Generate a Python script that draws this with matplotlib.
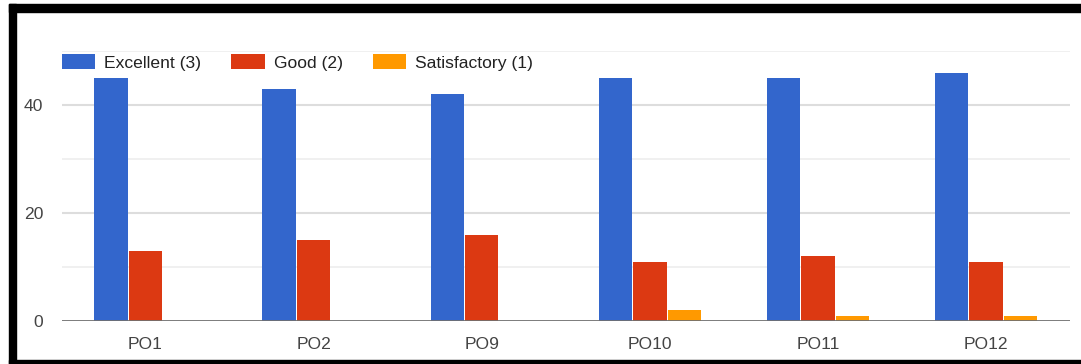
import matplotlib
matplotlib.use("Agg")
import matplotlib.pyplot as plt
from matplotlib.patches import Rectangle, Patch
import numpy as np

plt.rcParams['font.family'] = ['Liberation Sans', 'DejaVu Sans']

# outcome categories and response counts
outcomes = ['PO1', 'PO2', 'PO9', 'PO10', 'PO11', 'PO12']
excellent = [45, 43, 42, 45, 45, 46]
good = [13, 15, 16, 11, 12, 11]
satisfactory = [0, 0, 0, 2, 1, 1]

series_names = ['Excellent (3)', 'Good (2)', 'Satisfactory (1)']
series_colors = ['#3366cc', '#dc3912', '#ff9900']

W, H = 1081, 364
fig = plt.figure(figsize=(W / 100, H / 100), dpi=100)
fig.patch.set_facecolor('white')

ax = fig.add_axes([61.5 / W, (H - 321) / H, (1070 - 61.5) / W, 270 / H])

x = np.arange(len(outcomes))
bw = 0.205
for k, (vals, col) in enumerate(zip([excellent, good, satisfactory], series_colors)):
    ax.bar(x + (k - 1) * bw, vals, width=bw * 0.97, color=col, zorder=3)

ax.set_xlim(-0.5, len(outcomes) - 0.5)
ax.set_ylim(0, 50)

# gridlines: major every 20, lighter ones in between
for v in [10, 30, 50]:
    ax.axhline(v, color='#eeeeee', lw=1.2, zorder=1)
for v in [20, 40]:
    ax.axhline(v, color='#dddddd', lw=1.5, zorder=1)
ax.axhline(0, color='#707070', lw=2, zorder=4)

fs = 12.6
ax.set_yticks([0, 20, 40])
ax.set_xticks(x)
ax.set_xticklabels(outcomes)
ax.tick_params(axis='both', length=0, labelsize=fs, labelcolor='#444444')
ax.tick_params(axis='y', pad=13)
ax.tick_params(axis='x', pad=11.5)
for s in ax.spines.values():
    s.set_visible(False)

handles = [Patch(facecolor=c, edgecolor='none') for c in series_colors]
ax.legend(handles, series_names, loc='center left', bbox_to_anchor=(0, (321 - 62.5) / 270),
          ncol=3, frameon=False, fontsize=fs, handlelength=1.93, handleheight=0.97,
          handletextpad=0.51, columnspacing=1.7, borderpad=0, borderaxespad=0,
          labelcolor='#222222')

# black frame around the chart
fig.patches.append(Rectangle((9 / W, 0), 7 / W, (H - 4) / H, transform=fig.transFigure,
                             color='black', zorder=10))
fig.patches.append(Rectangle((9 / W, (H - 12) / H), (W - 9) / W, 8 / H, transform=fig.transFigure,
                             color='black', zorder=10))
fig.patches.append(Rectangle((9 / W, 0), (W - 9) / W, 4 / H, transform=fig.transFigure,
                             color='black', zorder=10))

fig.savefig('out.png', dpi=100)
